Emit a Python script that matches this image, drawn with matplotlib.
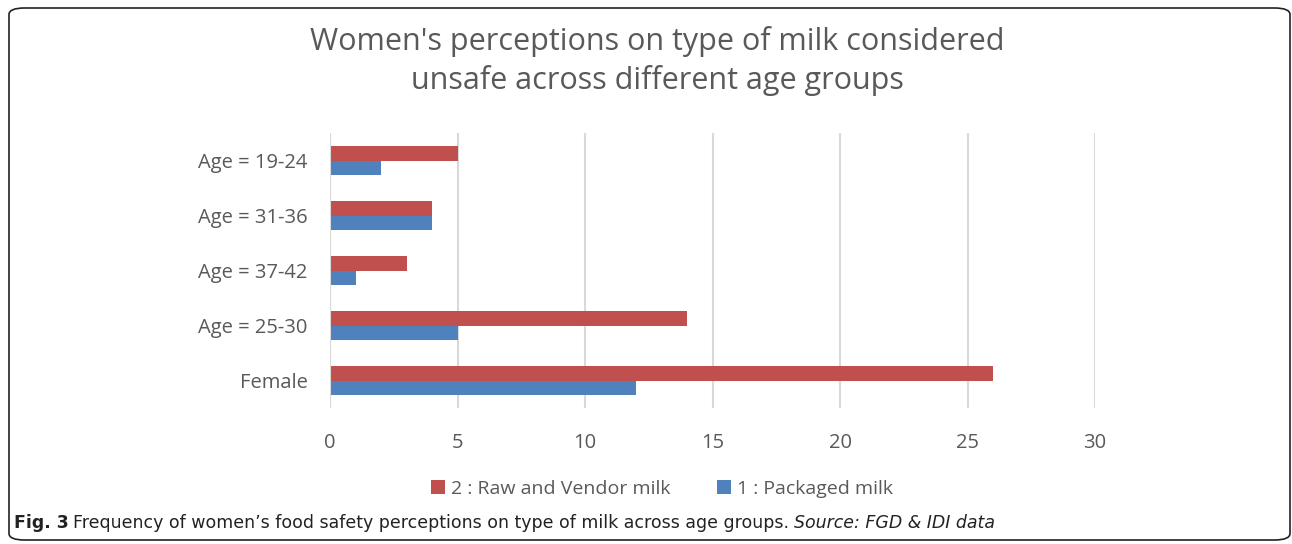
import numpy as np
import matplotlib.pyplot as plt
from matplotlib.patches import FancyBboxPatch

categories = ["Age = 19-24", "Age = 31-36", "Age = 37-42", "Age = 25-30", "Female"]
raw_vendor = [5, 4, 3, 14, 26]
packaged = [2, 4, 1, 5, 12]
series_labels = ["2 : Raw and Vendor milk", "1 : Packaged milk"]
x_ticks = [0, 5, 10, 15, 20, 25, 30]

RED = "#C0504D"
BLUE = "#4F81BD"
TEXT = "#595959"
GRID = "#D9D9D9"

plt.rcParams["font.family"] = ["Open Sans", "DejaVu Sans"]

fig = plt.figure(figsize=(12.92, 5.44), dpi=100)

# rounded frame around the chart
frame = FancyBboxPatch((9 / 1292, 4 / 544), 1281 / 1292, 532 / 544,
                       boxstyle="round,pad=0,rounding_size=0.012",
                       transform=fig.transFigure, fill=False,
                       edgecolor="#222222", linewidth=1.2)
fig.patches.append(frame)

ax = fig.add_axes([330 / 1292, 1 - 408 / 544, (1095 - 330) / 1292, (408 - 133) / 544])

y = np.arange(len(categories))
h = 0.255
ax.barh(y - h / 2, raw_vendor, height=h, color=RED, label=series_labels[0], zorder=3)
ax.barh(y + h / 2, packaged, height=h, color=BLUE, label=series_labels[1], zorder=3)

ax.set_xlim(0, 30)
ax.set_ylim(len(categories) - 0.5, -0.5)
ax.set_yticks(y)
ax.set_yticklabels(categories)
ax.set_xticks(x_ticks)
ax.tick_params(axis="both", length=0, colors=TEXT, labelsize=14.5)
ax.tick_params(axis="x", pad=18)
ax.tick_params(axis="y", pad=16)
ax.grid(axis="x", color=GRID, linewidth=1.5, zorder=0)
for s in ax.spines.values():
    s.set_visible(False)
ax.axvline(0, color=GRID, linewidth=1.5, zorder=4)

fig.text(657 / 1292, 1 - 61 / 544,
         "Women's perceptions on type of milk considered\nunsafe across different age groups",
         ha="center", va="center", fontsize=22, color=TEXT, linespacing=1.3)

fig.legend(loc="center", bbox_to_anchor=(662 / 1292, 1 - 489 / 544), ncol=2,
           frameon=False, fontsize=14, labelcolor=TEXT, handlelength=0.7,
           handleheight=0.7, handletextpad=0.3, columnspacing=2.4)

cap_font = ["DejaVu Sans"]
t1 = fig.text(14 / 1292, 1 - 523 / 544, "Fig. 3", fontsize=12.5, fontweight="bold",
              family=cap_font, va="center", color="#222222")
fig.canvas.draw()
bb = t1.get_window_extent()
t2 = fig.text(bb.x1 / 1292 + 4 / 1292, 1 - 523 / 544,
              "Frequency of women\u2019s food safety perceptions on type of milk across age groups. ",
              fontsize=12.5, family=cap_font, va="center", color="#222222")
fig.canvas.draw()
bb2 = t2.get_window_extent()
fig.text(bb2.x1 / 1292, 1 - 523 / 544, "Source: FGD & IDI data", fontsize=12.5,
         style="italic", family=cap_font, va="center", color="#222222")

fig.savefig("out.png", dpi=100)
